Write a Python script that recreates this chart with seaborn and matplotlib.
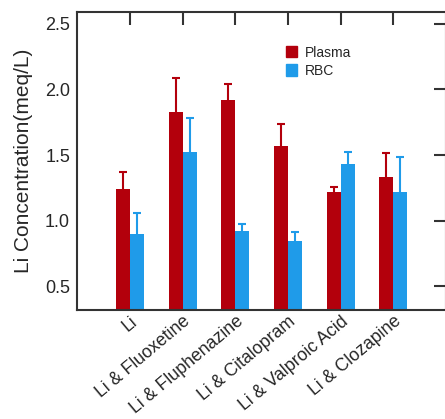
import numpy as np
import pandas as pd
import matplotlib
matplotlib.use("Agg")
import matplotlib.pyplot as plt
import seaborn as sns
from matplotlib.patches import Patch

groups = ["Li", "Li & Fluoxetine", "Li & Fluphenazine", "Li & Citalopram",
          "Li & Valproic Acid", "Li & Clozapine"]
plasma = [1.24, 1.83, 1.92, 1.57, 1.22, 1.33]
plasma_err = [0.13, 0.26, 0.12, 0.17, 0.035, 0.185]
rbc = [0.895, 1.52, 0.92, 0.845, 1.43, 1.22]
rbc_err = [0.16, 0.265, 0.055, 0.065, 0.09, 0.265]

colors = {"Plasma": "#b3000c", "RBC": "#1f9be9"}

df = pd.DataFrame({
    "group": groups * 2,
    "sample": ["Plasma"] * len(groups) + ["RBC"] * len(groups),
    "value": plasma + rbc,
    "err": plasma_err + rbc_err,
})

sns.set_theme(style="white")
plt.rcParams["font.family"] = ["Liberation Sans", "DejaVu Sans"]

fig = plt.figure(figsize=(4.45, 4.19), dpi=100)
ax = fig.add_axes([0.173, 0.26, 0.829, 0.711])

sns.barplot(data=df, x="group", y="value", hue="sample", order=groups,
            hue_order=["Plasma", "RBC"], palette=colors, width=0.535,
            errorbar=None, legend=False, saturation=1, ax=ax,
            edgecolor="none", linewidth=0)

# error bars sit behind the bars, so only the upper half shows
for bars, s in zip(ax.containers, ["Plasma", "RBC"]):
    sub = df[df["sample"] == s].set_index("group").loc[groups]
    xs = [b.get_x() + b.get_width() / 2 for b in bars]
    ax.errorbar(xs, sub["value"], yerr=sub["err"],
                fmt="none", ecolor=colors[s], elinewidth=1.5, capsize=3,
                capthick=1.5, zorder=0.5)

ax.set_ylim(0.317, 2.59)
ax.set_xlim(-1.01, 6.0)
ax.set_yticks([0.5, 1.0, 1.5, 2.0, 2.5])
ax.set_xlabel("")
ax.set_ylabel("Li Concentration(meq/L)", fontsize=15, labelpad=9)
ax.set_xticks(range(len(groups)))
ax.set_xticklabels(groups, rotation=40, ha="right", va="top",
                   rotation_mode="anchor", fontsize=12.8)
ax.tick_params(axis="y", labelsize=13, pad=5)
ax.tick_params(axis="x", pad=2)
ax.tick_params(direction="in", length=9, width=1.5, color="#333333",
               top=True, right=True, bottom=False)

for sp in ax.spines.values():
    sp.set_color("#333333")
    sp.set_linewidth(1.5)

handles = [Patch(color=colors["Plasma"], label="Plasma"),
           Patch(color=colors["RBC"], label="RBC")]
ax.legend(handles=handles, loc="upper left", bbox_to_anchor=(0.533, 0.93),
          frameon=False, fontsize=10, handlelength=0.75, handleheight=0.9,
          handletextpad=0.6, labelspacing=0.3)

fig.savefig("out.png", dpi=100)
